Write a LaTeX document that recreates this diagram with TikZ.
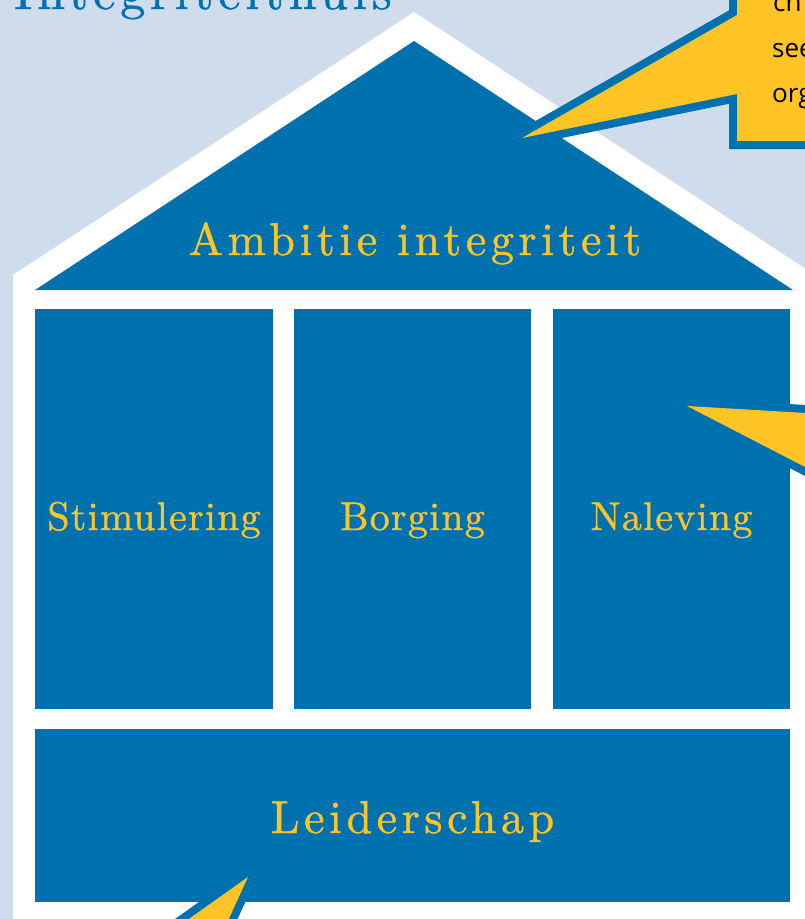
\documentclass[tikz,border=0pt]{standalone}
\usepackage{fontspec}
\newfontfamily\ballonfont{Open Sans}
\newfontfamily\titelfont[LetterSpace=10,FakeBold=1]{lmroman10-regular.otf}
\newfontfamily\grotefont[LetterSpace=10,FakeBold=1]{lmroman10-regular.otf}
\newfontfamily\kolomfont[LetterSpace=3,FakeBold=1]{lmroman10-regular.otf}

\definecolor{huisblauw}{HTML}{0071AF}
\definecolor{huisgeel}{HTML}{FEC425}
\definecolor{lucht}{HTML}{CEDCEC}

\tikzset{
    pilaar/.style={fill=huisblauw, inner sep=0pt, outer sep=0pt},
    kolomtekst/.style={text=huisgeel, anchor=base, inner sep=0pt,
        font=\kolomfont\fontsize{40}{40}\selectfont},
    grotetekst/.style={text=huisgeel, anchor=base, inner sep=0pt,
        font=\grotefont\fontsize{46}{46}\selectfont},
    ballon/.style={fill=huisgeel, preaction={draw=huisblauw, line width=16pt}},
    ballontekst/.style={anchor=base west, inner sep=0pt,
        font=\ballonfont\fontsize{26}{26}\selectfont},
}

\begin{document}
\begin{tikzpicture}[x=1pt, y=-1pt]
    \useasboundingbox (0,0) rectangle (805,919);
    \clip (0,0) rectangle (805,919);
    \fill[lucht] (0,0) rectangle (805,919);

    % Title
    \node[anchor=base west, inner sep=0pt, text=huisblauw,
        font=\titelfont\fontsize{50}{50}\selectfont]
        (titel) at (14,9) {Integriteithuis};

    % House
    \fill[white] (13,960) -- (13,275) -- (414,12) -- (815,275) -- (815,960) -- cycle;
    \coordinate (nok) at (414,41);
    \fill[huisblauw] (35,290) -- (nok) -- (793,290) -- cycle;
    \node[grotetekst] (ambitie) at (415,255) {Ambitie integriteit};

    % Pillars
    \node[pilaar, minimum width=238pt, minimum height=400pt] (stimulering) at (154,509) {};
    \node[pilaar, minimum width=237pt, minimum height=400pt] (borging) at (412.5,509) {};
    \node[pilaar, minimum width=237pt, minimum height=400pt] (naleving) at (671.5,509) {};
    \node[pilaar, minimum width=755pt, minimum height=173pt] (leiderschap) at (412.5,815.5) {};

    \node[kolomtekst] (stimtekst) at ([yshift=-21pt]stimulering.center) {Stimulering};
    \node[kolomtekst] (borgtekst) at ([yshift=-21pt]borging.center) {Borging};
    \node[kolomtekst] (naleeftekst) at ([yshift=-21pt]naleving.center) {Naleving};
    \node[grotetekst] (leidtekst) at ([yshift=-17.5pt]leiderschap.center) {Leiderschap};

    % Callouts
    \path[ballon] (737,-20) -- (737,15) -- (522,138) -- (737,94) -- (737,141)
        -- (830,141) -- (830,-20) -- cycle;
    \path[ballon] (687,406) -- (840,415) -- (840,485) -- cycle;
    \path[ballon] (248,877) -- (131,960) -- (210,960) -- cycle;

    \node[ballontekst] (regel1) at (773,11) {ch};
    \node[ballontekst] (regel2) at (772,57) {see};
    \node[ballontekst] (regel3) at (772,102) {org};
\end{tikzpicture}
\end{document}
